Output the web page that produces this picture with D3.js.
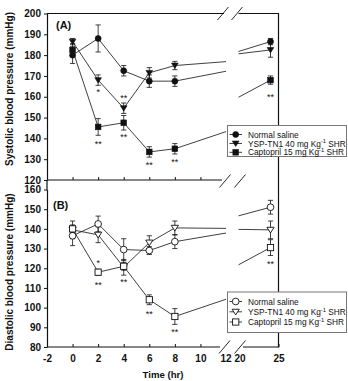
<!DOCTYPE html>
<html><head><meta charset="utf-8">
<script src="https://cdn.jsdelivr.net/npm/d3@7"></script>
<style>
html,body{margin:0;padding:0;background:#fff;}
svg{display:block;font-family:"Liberation Sans",Arial,sans-serif;}
</style></head>
<body><svg id="c" width="348" height="381"></svg>
<script>
// ---------- data ----------
const times = [0, 2, 4, 6, 8, 24];
const xTickValuesLeft = [-2, 0, 2, 4, 6, 8, 10, 12];
const xTickValuesRight = [20, 25];
const sbpTicks = [120, 130, 140, 150, 160, 170, 180, 190, 200];
const dbpTicks = [80, 90, 100, 110, 120, 130, 140, 150, 160];

const seriesNames = ["Normal saline", "YSP-TN1 40 mg Kg", "Captopril 15 mg Kg"];
const seriesSup = ["", "-1", "-1"];
const seriesTail = ["", " SHR", " SHR"];

// Panel A: systolic
const sbpSaline    = [180, 188, 172.5, 167.5, 167.5, 186.5];
const sbpSalineErr = [4, 6.5, 2.5, 3, 2.5, 1.5];
const sbpYsp       = [186.5, 168, 154.5, 171.5, 175, 182.5];
const sbpYspErr    = [1.5, 2.5, 2.5, 2.5, 2, 3.5];
const sbpCap       = [182.5, 145.5, 147.5, 133.5, 135, 168];
const sbpCapErr    = [3, 4, 3.5, 2.5, 2.5, 2];
const sbpSigTimes  = [2, 2, 4, 4, 6, 8, 24];
const sbpSigValues = [163.4, 138.3, 160.5, 141.7, 128.2, 129.6, 161];
const sbpSigText   = ["*", "**", "**", "**", "**", "**", "**"];

// Panel B: diastolic
const dbpSaline    = [136.5, 142.5, 129.5, 129, 133.5, 151];
const dbpSalineErr = [5, 4, 5.5, 2, 3.5, 3.5];
const dbpYsp       = [139.5, 137, 120.5, 133, 140.5, 139.5];
const dbpYspErr    = [4.5, 4, 4, 3.5, 3.5, 4.5];
const dbpCap       = [140, 118, 121, 104, 95.5, 130.5];
const dbpCapErr    = [2, 1.5, 2, 2.5, 4, 4];
const dbpSigTimes  = [2, 2, 4, 6, 8, 24];
const dbpSigValues = [123.8, 112.7, 114, 97.8, 88.6, 123.3];
const dbpSigText   = ["*", "**", "**", "**", "**", "**"];

// ---------- layout ----------
const svg = d3.select("#c");
const ink = "#111";
const lineInk = "#2a2a2a";
const fontFam = "'Liberation Sans',Arial,sans-serif";
const plainFmt = d => String(d);
const xL = d3.scaleLinear().domain([-2, 12]).range([47, 226]);
const xR = d3.scaleLinear().domain([20, 25]).range([238.5, 278.5]);
const xPos = t => t <= 12 ? xL(t) : xR(t);
const yA = d3.scaleLinear().domain([120, 200]).range([180, 13.5]);
const yB = d3.scaleLinear().domain([80, 160]).range([347, 189.5]);
const leftX = 47, rightX = 278.5;

function shape(g, kind, open, cx, cy, s) {
  const fill = open ? "#fff" : ink;
  const sw = open ? 0.9 : 0.6;
  if (kind === 0) {
    g.append("circle").attr("cx", cx).attr("cy", cy).attr("r", s * (open ? 0.56 : 0.5))
      .attr("fill", fill).attr("stroke", ink).attr("stroke-width", sw);
  } else if (kind === 1) {
    const w = s * (open ? 0.6 : 0.56), h = s * (open ? 0.95 : 0.9);
    g.append("path").attr("d", `M${cx - w},${cy - h * 0.45}L${cx + w},${cy - h * 0.45}L${cx},${cy + h * 0.55}Z`)
      .attr("fill", fill).attr("stroke", ink).attr("stroke-width", sw);
  } else {
    const a = s * (open ? 0.52 : 0.47);
    g.append("rect").attr("x", cx - a).attr("y", cy - a).attr("width", 2 * a).attr("height", 2 * a)
      .attr("fill", fill).attr("stroke", ink).attr("stroke-width", sw);
  }
}

function drawPanel(y, series, errs, open, sigT, sigV, sigS) {
  const g = svg.append("g");
  series.forEach(vals => {
    for (let i = 0; i < times.length - 1; i++) {
      const t0 = times[i], t1 = times[i + 1];
      const segs = [];
      if (t1 <= 12) segs.push([[t0, vals[i]], [t1, vals[i + 1]]]);
      else {
        const f = d3.interpolateNumber(vals[i], vals[i + 1]);
        const v12 = f((12 - t0) / (t1 - t0)), v20 = f((20 - t0) / (t1 - t0));
        segs.push([[t0, vals[i]], [12, v12]]);
        segs.push([[20, v20], [t1, vals[i + 1]]]);
      }
      segs.forEach(s => g.append("line")
        .attr("x1", xPos(s[0][0])).attr("y1", y(s[0][1]))
        .attr("x2", xPos(s[1][0])).attr("y2", y(s[1][1]))
        .attr("stroke", lineInk).attr("stroke-width", 0.9));
    }
  });
  series.forEach((vals, k) => {
    vals.forEach((v, i) => {
      const x = xPos(times[i]), e = errs[k][i];
      const y1 = y(v - e), y2 = y(v + e);
      g.append("line").attr("x1", x).attr("x2", x).attr("y1", y1).attr("y2", y2)
        .attr("stroke", ink).attr("stroke-width", 0.8);
      [y1, y2].forEach(yy => g.append("line").attr("x1", x - 2.6).attr("x2", x + 2.6)
        .attr("y1", yy).attr("y2", yy).attr("stroke", ink).attr("stroke-width", 0.8));
    });
  });
  series.forEach((vals, k) => {
    vals.forEach((v, i) => shape(g, k, open, xPos(times[i]), y(v), 6));
  });
  sigT.forEach((t, i) => {
    g.append("text").attr("x", xPos(t)).attr("y", y(sigV[i]) + 5)
      .attr("text-anchor", "middle").attr("font-size", 9).attr("fill", ink).text(sigS[i]);
  });
}

function yAxis(y, ticks) {
  const g = svg.append("g").attr("transform", `translate(${leftX},0)`)
    .call(d3.axisLeft(y).tickValues(ticks).tickSize(3).tickSizeOuter(0).tickPadding(3).tickFormat(plainFmt));
  g.select(".domain").attr("stroke", ink).attr("stroke-width", 1.2);
  g.selectAll(".tick line").attr("stroke", ink).attr("stroke-width", 1);
  g.selectAll(".tick text").attr("font-size", 10).attr("font-weight", "bold").attr("fill", ink)
    .attr("font-family", fontFam);
  return g;
}

function slashes(yy, c1, c2) {
  [c1, c2].forEach(c => svg.append("line").attr("x1", c - 5.5).attr("y1", yy + 6.5)
    .attr("x2", c + 5.5).attr("y2", yy - 6.5).attr("stroke", ink).attr("stroke-width", 0.9));
}

// Frame A
svg.append("line").attr("x1", leftX).attr("x2", 224).attr("y1", 13.5).attr("y2", 13.5).attr("stroke", ink).attr("stroke-width", 1.2);
svg.append("line").attr("x1", 238.5).attr("x2", rightX).attr("y1", 13.5).attr("y2", 13.5).attr("stroke", ink).attr("stroke-width", 1.2);
slashes(13.5, 223, 237);
svg.append("line").attr("x1", rightX).attr("x2", rightX).attr("y1", 13).attr("y2", 347.6).attr("stroke", ink).attr("stroke-width", 1.2);
svg.append("line").attr("x1", leftX).attr("x2", 222).attr("y1", 180).attr("y2", 180).attr("stroke", ink).attr("stroke-width", 1.2);
slashes(181, 225, 240);
const aBot = svg.append("g").attr("transform", "translate(0,180)")
  .call(d3.axisBottom(xL).tickValues([0, 2, 4, 6, 8, 10]).tickSize(-3).tickSizeOuter(0).tickFormat(""));
aBot.select(".domain").remove();
aBot.selectAll(".tick line").attr("stroke", ink).attr("stroke-width", 1);

// bottom of B
svg.append("line").attr("x1", leftX).attr("x2", 220).attr("y1", 347).attr("y2", 347).attr("stroke", ink).attr("stroke-width", 1.2);
svg.append("line").attr("x1", 243).attr("x2", rightX).attr("y1", 347).attr("y2", 347).attr("stroke", ink).attr("stroke-width", 1.2);
slashes(347, 224.5, 240);
[[xL, xTickValuesLeft], [xR, xTickValuesRight]].forEach(([sc, tv]) => {
  const g = svg.append("g").attr("transform", "translate(0,347)")
    .call(d3.axisBottom(sc).tickValues(tv).tickSize(-3).tickSizeOuter(0).tickPadding(8).tickFormat(plainFmt));
  g.select(".domain").remove();
  g.selectAll(".tick line").attr("stroke", ink).attr("stroke-width", 1)
    .attr("display", d => (d === 12 || d === 20) ? "none" : null);
  g.selectAll(".tick text").attr("font-size", 10).attr("font-weight", "bold").attr("fill", ink)
    .attr("font-family", fontFam)
    .attr("dx", d => d === 12 ? -0.5 : (d === 20 ? 1 : 0));
});

yAxis(yA, sbpTicks);
yAxis(yB, dbpTicks);
svg.append("line").attr("x1", leftX).attr("x2", leftX).attr("y1", 180).attr("y2", 190).attr("stroke", ink).attr("stroke-width", 1.2);

drawPanel(yA, [sbpSaline, sbpYsp, sbpCap], [sbpSalineErr, sbpYspErr, sbpCapErr], false, sbpSigTimes, sbpSigValues, sbpSigText);
drawPanel(yB, [dbpSaline, dbpYsp, dbpCap], [dbpSalineErr, dbpYspErr, dbpCapErr], true, dbpSigTimes, dbpSigValues, dbpSigText);

svg.append("text").attr("x", 56).attr("y", 29).attr("font-size", 11).attr("font-weight", "bold").attr("fill", ink).text("(A)");
svg.append("text").attr("x", 53).attr("y", 209).attr("font-size", 11).attr("font-weight", "bold").attr("fill", ink).text("(B)");

svg.append("text").attr("transform", "translate(13,89) rotate(-90)").attr("text-anchor", "middle")
  .attr("font-size", 10).attr("font-weight", "bold").attr("fill", ink).text("Systolic blood pressure (mmHg)");
svg.append("text").attr("transform", "translate(13,272) rotate(-90)").attr("text-anchor", "middle")
  .attr("font-size", 10).attr("font-weight", "bold").attr("fill", ink).text("Diastolic blood pressure (mmHg)");
svg.append("text").attr("x", 163).attr("y", 378).attr("text-anchor", "middle")
  .attr("font-size", 9.6).attr("font-weight", "bold").attr("fill", ink).text("Time (hr)");

function legend(top, bottom, rows, open) {
  const g = svg.append("g");
  g.append("rect").attr("x", 227.5).attr("y", top).attr("width", 119).attr("height", bottom - top)
    .attr("fill", "#fff").attr("stroke", "#777").attr("stroke-width", 1);
  seriesNames.forEach((name, k) => {
    const yy = rows[k];
    g.append("line").attr("x1", 229.5).attr("x2", 242).attr("y1", yy).attr("y2", yy).attr("stroke", lineInk).attr("stroke-width", 0.9);
    shape(g, k, open, 235.7, yy, 6);
    const t = g.append("text").attr("x", 248).attr("y", yy + 3.1).attr("font-size", 8.3).attr("fill", ink);
    t.append("tspan").text(name);
    if (seriesSup[k]) {
      t.append("tspan").attr("font-size", 5.8).attr("dy", -3.4).text(seriesSup[k]);
      t.append("tspan").attr("dy", 3.4).text(seriesTail[k]);
    }
  });
}
legend(125.5, 156.5, [134.5, 143.5, 152.3], false);
legend(292, 332.5, [301.5, 311.8, 322], true);
</script></body></html>
